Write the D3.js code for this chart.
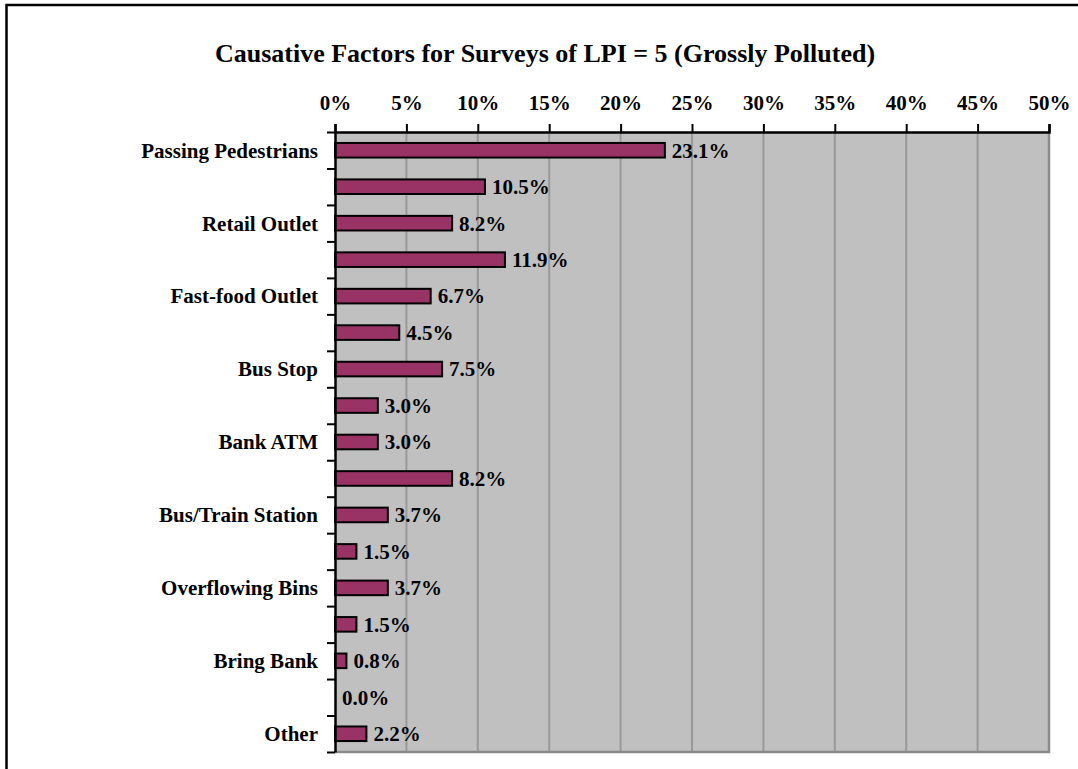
<!DOCTYPE html>
<html>
<head>
<meta charset="utf-8">
<script src="https://cdn.jsdelivr.net/npm/d3@7"></script>
<style>
  html, body { margin: 0; padding: 0; background: #fff; }
  svg { display: block; }
  text { font-family: "Liberation Serif", "Times New Roman", serif; font-weight: bold; fill: #000; }
</style>
</head>
<body>
<svg id="chart" width="1078" height="769"></svg>
<script>
// Share of surveys naming each causative factor (%), top to bottom
const categories = [
  "Passing Pedestrians", "", "Retail Outlet", "", "Fast-food Outlet", "",
  "Bus Stop", "", "Bank ATM", "", "Bus/Train Station", "",
  "Overflowing Bins", "", "Bring Bank", "", "Other"
];
const values = [23.1, 10.5, 8.2, 11.9, 6.7, 4.5, 7.5, 3.0, 3.0, 8.2, 3.7, 1.5, 3.7, 1.5, 0.8, 0.0, 2.2];
const xTicks = [0, 5, 10, 15, 20, 25, 30, 35, 40, 45, 50];
const titleText = "Causative Factors for Surveys of LPI = 5 (Grossly Polluted)";

const svg = d3.select("#chart");
const W = 1078, H = 769;

// outer chart frame (runs off the right and bottom edges)
svg.append("rect")
  .attr("x", 6.5).attr("y", 5)
  .attr("width", W + 20).attr("height", H + 20)
  .attr("fill", "#fff").attr("stroke", "#000").attr("stroke-width", 2.5);

const plot = { left: 335, right: 1049, top: 132, bottom: 752 };

const x = d3.scaleLinear().domain([0, 50]).range([plot.left, plot.right]);
const idx = d3.range(categories.length);
const y = d3.scaleBand().domain(idx).range([plot.top, plot.bottom])
  .paddingInner(0.6).paddingOuter(0.3);
const yEdge = d3.scaleLinear().domain([0, categories.length]).range([plot.top, plot.bottom]);

// plot background
svg.append("rect")
  .attr("x", plot.left).attr("y", plot.top)
  .attr("width", plot.right - plot.left).attr("height", plot.bottom - plot.top)
  .attr("fill", "#c0c0c0");

// vertical gridlines
svg.append("g")
  .selectAll("line")
  .data(xTicks.slice(1, -1))
  .join("line")
  .attr("x1", d => x(d)).attr("x2", d => x(d))
  .attr("y1", plot.top).attr("y2", plot.bottom)
  .attr("stroke", "#999999").attr("stroke-width", 2);

// plot area border on right and bottom
svg.append("path")
  .attr("d", `M${plot.right},${plot.top}V${plot.bottom}H${plot.left}`)
  .attr("fill", "none").attr("stroke", "#8a8a8a").attr("stroke-width", 2.5);

// bars
svg.append("g")
  .selectAll("rect")
  .data(values)
  .join("rect")
  .attr("x", x(0))
  .attr("y", (d, i) => y(i))
  .attr("width", d => x(d) - x(0))
  .attr("height", y.bandwidth())
  .attr("fill", d => d > 0 ? "#993366" : "none")
  .attr("stroke", d => d > 0 ? "#000" : "none")
  .attr("stroke-width", 2);

// value labels
svg.append("g")
  .selectAll("text")
  .data(values)
  .join("text")
  .attr("x", d => x(d) + 7)
  .attr("y", (d, i) => y(i) + y.bandwidth() / 2)
  .attr("dy", "0.35em")
  .attr("font-size", 21)
  .text(d => d.toFixed(1) + "%");

// top value axis
const xAxis = svg.append("g")
  .attr("transform", `translate(0,${plot.top})`)
  .call(d3.axisTop(x).tickValues(xTicks).tickSize(8).tickPadding(14)
    .tickFormat(d => d + "%"));
xAxis.select(".domain").attr("stroke", "#000").attr("stroke-width", 2.5);
xAxis.selectAll(".tick line").attr("stroke", "#000").attr("stroke-width", 2);
xAxis.selectAll(".tick text")
  .attr("font-size", 21).attr("font-family", "Liberation Serif, serif")
  .attr("font-weight", "bold").attr("fill", "#000");

// left category axis: ticks at category boundaries
const yAxis = svg.append("g")
  .attr("transform", `translate(${plot.left},0)`)
  .call(d3.axisLeft(yEdge).tickValues(d3.range(categories.length + 1))
    .tickSize(8).tickSizeOuter(0).tickFormat(""));
yAxis.select(".domain").attr("stroke", "#000").attr("stroke-width", 2.5);
yAxis.selectAll(".tick line").attr("stroke", "#000").attr("stroke-width", 2);

// category labels
svg.append("g")
  .selectAll("text")
  .data(categories)
  .join("text")
  .attr("x", plot.left - 17)
  .attr("y", (d, i) => y(i) + y.bandwidth() / 2)
  .attr("dy", "0.35em")
  .attr("text-anchor", "end")
  .attr("font-size", 21)
  .text(d => d);

// title
svg.append("text")
  .attr("x", 545).attr("y", 62)
  .attr("text-anchor", "middle")
  .attr("font-size", 26)
  .text(titleText);
</script>
</body>
</html>
